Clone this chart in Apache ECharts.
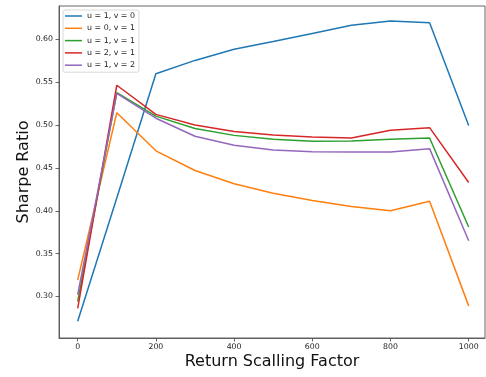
<!DOCTYPE html>
<html>
<head>
<meta charset="utf-8">
<script src="https://cdn.jsdelivr.net/npm/echarts@6/dist/echarts.min.js"></script>
<style>html,body{margin:0;padding:0;background:#fff}#c{width:486px;height:377px}</style>
</head>
<body>
<div id="c"></div>
<script>
const xs = [0, 100, 200, 300, 400, 500, 600, 700, 800, 900, 1000];
const seriesNames = ['u = 1, v = 0', 'u = 0, v = 1', 'u = 1, v = 1', 'u = 2, v = 1', 'u = 1, v = 2'];
const u1v0 = [0.271, 0.415, 0.560, 0.5755, 0.5885, 0.5975, 0.607, 0.6165, 0.6215, 0.6195, 0.4995];
const u0v1 = [0.319, 0.5145, 0.470, 0.447, 0.4315, 0.4205, 0.412, 0.405, 0.400, 0.411, 0.289];
const u1v1 = [0.294, 0.538, 0.5105, 0.496, 0.488, 0.4835, 0.481, 0.4815, 0.4835, 0.485, 0.381];
const u2v1 = [0.286, 0.5465, 0.5125, 0.500, 0.4925, 0.4885, 0.486, 0.485, 0.494, 0.497, 0.433];
const u1v2 = [0.302, 0.537, 0.508, 0.487, 0.4765, 0.471, 0.469, 0.4685, 0.4685, 0.4725, 0.365];
const xTicks = [0, 200, 400, 600, 800, 1000];
const yTicks = [0.30, 0.35, 0.40, 0.45, 0.50, 0.55, 0.60];
const colors = ['#1f77b4', '#ff7f0e', '#2ca02c', '#d62728', '#9467bd'];
const allValues = [u1v0, u0v1, u1v1, u2v1, u1v2];

const font = 'DejaVu Sans';
const chart = echarts.init(document.getElementById('c'), null, {renderer: 'canvas'});
const series = allValues.map((vals, i) => ({
  name: seriesNames[i],
  type: 'line',
  data: xs.map((x, j) => [x, vals[j]]),
  symbol: 'none',
  lineStyle: {width: 1.5, color: colors[i]},
  itemStyle: {color: colors[i]},
  animation: false,
  z: 2 + i
}));
chart.setOption({
  animation: false,
  grid: {left: 59, right: 1, top: 6, bottom: 39, show: true, borderColor: '#555', borderWidth: 0.9, backgroundColor: 'transparent'},
  legend: {
    orient: 'vertical', left: 63, top: 10,
    data: seriesNames.map(n => ({name: n, icon: 'rect'})),
    itemWidth: 17, itemHeight: 1.5, itemGap: 2.3,
    padding: [1, 4, 2, 2],
    backgroundColor: 'rgba(255,255,255,0.8)',
    borderColor: '#d5d5d5', borderWidth: 0.9, borderRadius: 2,
    textStyle: {fontFamily: font, fontSize: 7.9, color: '#222', lineHeight: 10},
    z: 10
  },
  xAxis: {
    type: 'value', min: -47.8, max: 1041.7,
    name: 'Return Scalling Factor', nameLocation: 'middle', nameGap: 16, nameMoveOverlap: false,
    nameTextStyle: {fontFamily: font, fontSize: 16, color: '#111'},
    axisLine: {show: true, onZero: false, lineStyle: {color: '#555', width: 0.9}},
    axisTick: {show: true, length: 3.5, customValues: xTicks, lineStyle: {color: '#555', width: 0.9}},
    axisLabel: {customValues: xTicks, margin: 5, fontFamily: font, fontSize: 7.8, color: '#222', formatter: v => String(v)},
    splitLine: {show: false}
  },
  yAxis: {
    type: 'value', min: 0.2515, max: 0.639,
    name: 'Sharpe Ratio', nameLocation: 'middle', nameGap: 27, nameRotate: 90, nameMoveOverlap: false,
    nameTextStyle: {fontFamily: font, fontSize: 16, color: '#111'},
    axisLine: {show: true, onZero: false, lineStyle: {color: '#555', width: 0.9}},
    axisTick: {show: true, length: 3.5, customValues: yTicks, lineStyle: {color: '#555', width: 0.9}},
    axisLabel: {customValues: yTicks, margin: 6, fontFamily: font, fontSize: 7.8, color: '#222', formatter: v => v.toFixed(2)},
    splitLine: {show: false}
  },
  series: series
});
</script>
</body>
</html>
